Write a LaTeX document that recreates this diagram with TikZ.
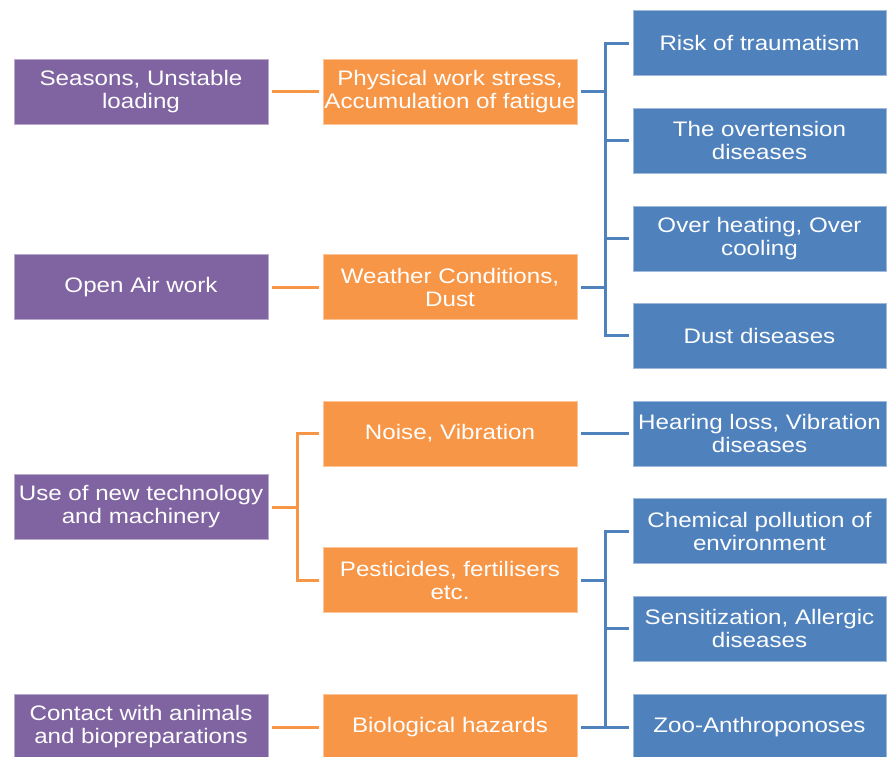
\documentclass[tikz,border=0pt]{standalone}
\usepackage{fontspec}
\setmainfont{Liberation Sans}[FakeStretch=1.15]
\definecolor{cpur}{HTML}{8064A2}
\definecolor{cora}{HTML}{F79646}
\definecolor{cblu}{HTML}{4F81BD}
\tikzset{
  box/.style={rectangle, minimum width=254pt, minimum height=65pt, inner sep=0pt,
    text=white, align=center, font=\fontsize{21}{23}\selectfont, line width=0.8pt},
  pbox/.style={box, fill=cpur, draw=cpur!55!white},
  obox/.style={box, fill=cora, draw=cora!55!white},
  bbox/.style={box, fill=cblu, draw=cblu!55!white, minimum width=253pt},
  oline/.style={draw=cora, line width=3pt},
  bline/.style={draw=cblu, line width=3pt},
}
\begin{document}
\begin{tikzpicture}[x=1pt,y=-1pt]
\useasboundingbox (0,0) rectangle (887,756);
\begin{scope}
\clip (0,0) rectangle (887,756);
% purple
\node[pbox] (p1) at (141,91.5) {Seasons, Unstable\\loading};
\node[pbox] (p2) at (141,287) {Open Air work};
\node[pbox] (p3) at (141,507) {Use of new technology\\and machinery};
\node[pbox] (p4) at (141,727) {Contact with animals\\and biopreparations};
% orange
\node[obox] (o1) at (450,91.5) {Physical work stress,\\Accumulation of fatigue};
\node[obox] (o2) at (450,287) {Weather Conditions,\\Dust};
\node[obox] (o3) at (450,433.5) {Noise, Vibration};
\node[obox] (o4) at (450,580) {Pesticides, fertilisers\\etc.};
\node[obox] (o5) at (450,727) {Biological hazards};
% blue
\node[bbox] (b1) at (759.5,43) {Risk of traumatism};
\node[bbox] (b2) at (759.5,140.5) {The overtension\\diseases};
\node[bbox] (b3) at (759.5,238.5) {Over heating, Over\\cooling};
\node[bbox] (b4) at (759.5,335.5) {Dust diseases};
\node[bbox] (b5) at (759.5,433.5) {Hearing loss, Vibration\\diseases};
\node[bbox] (b6) at (759.5,531) {Chemical pollution of\\environment};
\node[bbox] (b7) at (759.5,628.5) {Sensitization, Allergic\\diseases};
\node[bbox] (b8) at (759.5,727) {Zoo-Anthroponoses};
% trunks
\coordinate (tb) at (605,0);
\coordinate (to) at (297,0);
% purple -> orange
\draw[oline] ([xshift=4pt]p1.east) -- ([xshift=-4pt]o1.west);
\draw[oline] ([xshift=4pt]p2.east) -- ([xshift=-4pt]o2.west);
\draw[oline] ([xshift=4pt]p4.east) -- ([xshift=-4pt]o5.west);
\draw[oline] ([xshift=4pt]p3.east) -- (p3.east -| to);
\draw[oline] ([xshift=-4pt]o3.west) -- (o3.west -| to) -- (o4.west -| to) -- ([xshift=-4pt]o4.west);
% blue tree 1
\draw[bline] ([xshift=4pt]o1.east) -- (o1.east -| tb);
\draw[bline] ([xshift=4pt]o2.east) -- (o2.east -| tb);
\draw[bline] ([xshift=-4pt]b1.west) -- (b1.west -| tb) -- (b4.west -| tb) -- ([xshift=-4pt]b4.west);
\draw[bline] ([xshift=-4pt]b2.west) -- (b2.west -| tb);
\draw[bline] ([xshift=-4pt]b3.west) -- (b3.west -| tb);
% noise -> hearing
\draw[bline] ([xshift=4pt]o3.east) -- ([xshift=-4pt]b5.west);
% blue tree 2
\draw[bline] ([xshift=4pt]o4.east) -- (o4.east -| tb);
\draw[bline] ([xshift=4pt]o5.east) -- (o5.east -| tb);
\draw[bline] ([xshift=-4pt]b6.west) -- (b6.west -| tb) -- (b8.west -| tb) -- ([xshift=-4pt]b8.west);
\draw[bline] ([xshift=-4pt]b7.west) -- (b7.west -| tb);
\end{scope}
\end{tikzpicture}
\end{document}
